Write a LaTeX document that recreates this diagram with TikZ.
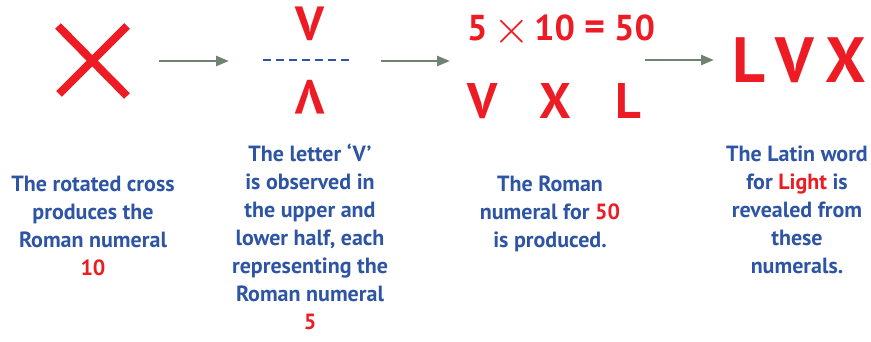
\documentclass[tikz,border=0pt]{standalone}
\usepackage{graphicx}
\usepackage{fontspec}
\setmainfont{PT Sans}
\usetikzlibrary{arrows.meta,positioning}
\definecolor{lucRed}{HTML}{ED1C24}
\definecolor{lucBlue}{HTML}{2E55A4}
\definecolor{lucArrow}{HTML}{6F8470}
\newcommand{\bigtimes}{\raisebox{2pt}{$\vcenter{\hbox{\scalebox{1.9}{$\times$}}}$}}

\begin{document}
\begin{tikzpicture}[
  x=1pt,y=-1pt,
  numeral/.style={text=lucRed,font=\bfseries\fontsize{#1}{#1}\selectfont,inner sep=0pt},
  note/.style={text=lucBlue,align=center,font=\bfseries\fontsize{22}{28}\selectfont,inner sep=0pt,anchor=north},
  arrow/.style={-{Triangle[length=13pt,width=10pt]},line width=2.6pt,color=lucArrow}
]
\useasboundingbox (0,0) rectangle (871,342);
% the cross
\coordinate (xa) at (58,26);
\coordinate (xb) at (127,96);
\coordinate (xc) at (127,26);
\coordinate (xd) at (59,94);
\draw[lucRed,line width=8pt] (xa) -- (xb);
\draw[lucRed,line width=8pt] (xc) -- (xd);
% split into two halves
\node[numeral=48] (vtop) at (310,24) {V};
\node[numeral=48,rotate=180] (vbot) at (310,97) {V};
\coordinate (dl) at (263,60);
\coordinate (dr) at (351,60);
\draw[lucBlue,line width=2.4pt,dash pattern=on 8pt off 5pt] (dl) -- (dr);
% product
\node[numeral=36] (prod) at (561,31) {5\hspace{6pt}\bigtimes\hspace{4pt}10\hspace{9pt}{\fontsize{40}{40}\selectfont=}\hspace{9pt}50};
\node[numeral=50] (lv) at (483,101) {V};
\node[numeral=50] (lx) at (555,101) {X};
\node[numeral=50] (ll) at (628,101) {L};
% the word
\node[numeral=64] (lux) at (799,60) {L\,V\,X};
% arrows
\coordinate (a1) at (159,61);
\coordinate (b1) at (229,61);
\coordinate (a2) at (381,61);
\coordinate (b2) at (450,61);
\coordinate (a3) at (645,60);
\coordinate (b3) at (714,60);
\draw[arrow] (a1) -- (b1);
\draw[arrow] (a2) -- (b2);
\draw[arrow] (a3) -- (b3);
% notes
\node[note] (n1) at (93,176) {The rotated cross\\produces the\\Roman numeral\\\textcolor{lucRed}{10}};
\node[note] (n2) at (310,144) {The letter ‘V’\\is observed in\\the upper and\\lower half, each\\representing the\\Roman numeral\\\textcolor{lucRed}{5}};
\node[note] (n3) at (550,176) {The Roman\\numeral for \textcolor{lucRed}{50}\\is produced.};
\node[note] (n4) at (797,146) {The Latin word\\for \textcolor{lucRed}{Light} is\\revealed from\\these\\numerals.};
\end{tikzpicture}
\end{document}
